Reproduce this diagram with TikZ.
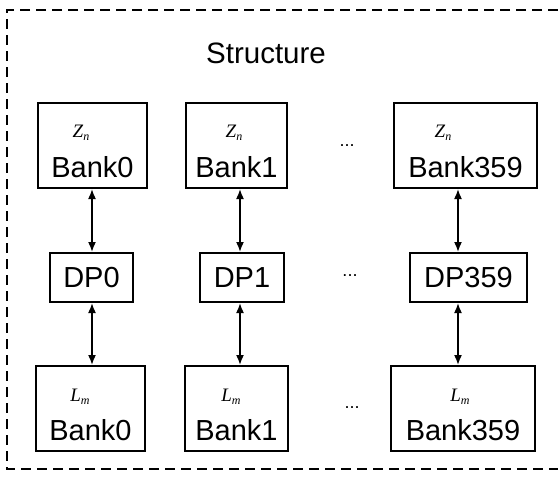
\documentclass[tikz,border=0pt]{standalone}
\usepackage{fontspec}
\setmainfont{Liberation Sans}
\newfontfamily\serifit{Liberation Serif}
\usetikzlibrary{arrows.meta}
\begin{document}
\begin{tikzpicture}[x=1pt,y=-1pt,
  box/.style={draw,line width=2pt,inner sep=0pt},
  lbl/.style={font=\fontsize{29}{32}\selectfont,inner sep=0pt},
  ttl/.style={font=\fontsize{29.5}{32}\selectfont,inner sep=0pt},
  sym/.style={font=\fontsize{19}{22}\selectfont\serifit\itshape,inner sep=0pt},
  dotsl/.style={font=\fontsize{18}{20}\selectfont,inner sep=0pt},
  link/.style={line width=1.6pt,{Latex[length=10pt,width=8pt]}-{Latex[length=10pt,width=8pt]}}]
\useasboundingbox (0,0) rectangle (558,482);
\draw[line width=2.8pt,dash pattern=on 10pt off 6pt] (558,10) -- (7,10) -- (7,469) -- (558,469);
\node[ttl] (title) at (266,53) {Structure};
% top banks
\node[box,minimum width=109pt,minimum height=85pt] (t0) at (92.5,145.5) {};
\node[box,minimum width=101pt,minimum height=85pt] (t1) at (236.5,145.5) {};
\node[box,minimum width=143pt,minimum height=85pt] (t2) at (465.5,145.5) {};
% DPs
\node[box,minimum width=83pt,minimum height=49pt,lbl] (d0) at (91.5,277.5) {DP0};
\node[box,minimum width=84pt,minimum height=49pt,lbl] (d1) at (242,277.5) {DP1};
\node[box,minimum width=117pt,minimum height=49pt,lbl] (d2) at (468.5,277.5) {DP359};
% bottom banks
\node[box,minimum width=109pt,minimum height=85pt] (b0) at (90.5,408.5) {};
\node[box,minimum width=103pt,minimum height=85pt] (b1) at (236.5,408.5) {};
\node[box,minimum width=144pt,minimum height=85pt] (b2) at (463,408.5) {};
% texts top
\node[lbl] (t0l) at ([yshift=-21.5pt]t0.center) {Bank0};
\node[lbl] (t1l) at ([yshift=-21.5pt]t1.center) {Bank1};
\node[lbl] (t2l) at ([yshift=-21.5pt]t2.center) {Bank359};
\node[sym] (t0s) at (81,133) {Z\raisebox{-0.35ex}{\fontsize{12}{13}\selectfont n}};
\node[sym] (t1s) at (234,133) {Z\raisebox{-0.35ex}{\fontsize{12}{13}\selectfont n}};
\node[sym] (t2s) at (443,133) {Z\raisebox{-0.35ex}{\fontsize{12}{13}\selectfont n}};
% texts bottom
\node[lbl] (b0l) at ([yshift=-21.5pt]b0.center) {Bank0};
\node[lbl] (b1l) at ([yshift=-21.5pt]b1.center) {Bank1};
\node[lbl] (b2l) at ([yshift=-21.5pt]b2.center) {Bank359};
\node[sym] (b0s) at (80,397) {L\raisebox{-0.35ex}{\fontsize{12}{13}\selectfont m}};
\node[sym] (b1s) at (231,397) {L\raisebox{-0.35ex}{\fontsize{12}{13}\selectfont m}};
\node[sym] (b2s) at (460,397) {L\raisebox{-0.35ex}{\fontsize{12}{13}\selectfont m}};
% dots
\node[dotsl] (dt) at (347,146) {...};
\node[dotsl] (dm) at (350,276) {...};
\node[dotsl] (db) at (352,408) {...};
% arrow columns
\coordinate (a0) at (92,0);
\coordinate (a1) at (240,0);
\coordinate (a2) at (458,0);
\draw[link] (t0.south -| a0) -- (d0.north -| a0);
\draw[link] (d0.south -| a0) -- (b0.north -| a0);
\draw[link] (t1.south -| a1) -- (d1.north -| a1);
\draw[link] (d1.south -| a1) -- (b1.north -| a1);
\draw[link] (t2.south -| a2) -- (d2.north -| a2);
\draw[link] (d2.south -| a2) -- (b2.north -| a2);
\end{tikzpicture}
\end{document}
